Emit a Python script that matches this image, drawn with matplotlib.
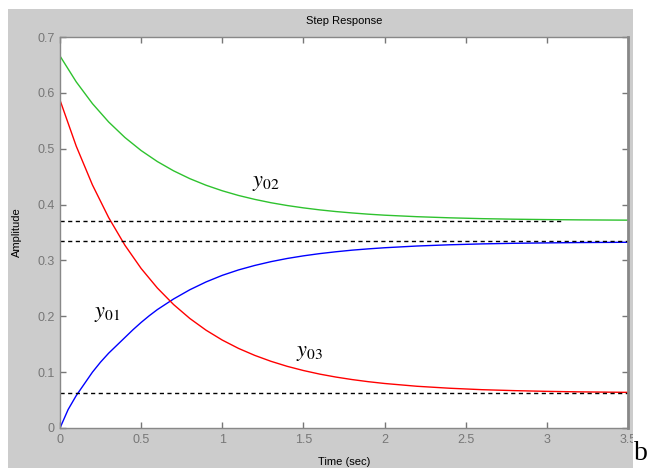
import matplotlib.pyplot as plt
from matplotlib.patches import Rectangle

plt.rcParams['font.family'] = ['Liberation Sans', 'DejaVu Sans']
plt.rcParams['mathtext.fontset'] = 'stix'

# --- data ---
t_y01 = [0, 0.05, 0.1, 0.15, 0.2, 0.25, 0.3, 0.35, 0.4, 0.45, 0.5, 0.55, 0.6,
         0.7, 0.8, 0.9, 1.0, 1.1, 1.2, 1.3, 1.4, 1.5, 1.6, 1.7, 1.8, 1.9, 2.0,
         2.2, 2.4, 2.6, 2.8, 3.0, 3.2, 3.5]
y01 = [0, 0.033, 0.058, 0.079, 0.100, 0.118, 0.134, 0.148, 0.162, 0.176,
       0.189, 0.201, 0.212, 0.231, 0.2475, 0.2615, 0.2733, 0.2830, 0.2910,
       0.2978, 0.3035, 0.3082, 0.3122, 0.3155, 0.3184, 0.3207, 0.3227, 0.3258,
       0.3280, 0.3296, 0.3307, 0.3314, 0.3320, 0.3325]

t = [0, 0.1, 0.2, 0.3, 0.4, 0.5, 0.6, 0.7, 0.8, 0.9, 1.0, 1.1, 1.2, 1.3, 1.4,
     1.5, 1.6, 1.7, 1.8, 1.9, 2.0, 2.2, 2.4, 2.6, 2.8, 3.0, 3.2, 3.5]
y02 = [0.666, 0.6197, 0.5807, 0.5478, 0.5201, 0.4967, 0.4770, 0.4604, 0.4464,
       0.4346, 0.4247, 0.4163, 0.4093, 0.4033, 0.3983, 0.3941, 0.3905, 0.3875,
       0.3850, 0.3828, 0.3810, 0.3783, 0.3763, 0.3748, 0.3738, 0.3731, 0.3726,
       0.3721]
y03 = [0.587, 0.5046, 0.4351, 0.3766, 0.3272, 0.2856, 0.2506, 0.2210, 0.1961,
       0.1751, 0.1574, 0.1425, 0.1300, 0.1194, 0.1104, 0.1029, 0.0965, 0.0912,
       0.0867, 0.0829, 0.0797, 0.0747, 0.0712, 0.0686, 0.0669, 0.0656, 0.0647,
       0.0638]

# steady-state levels (value, end time)
levels = [(0.3713, 3.1), (0.334, 3.5), (0.0625, 3.5)]

labels = ['$y_{01}$', '$y_{02}$', '$y_{03}$']
label_pos = [(0.29, 0.205), (1.27, 0.44), (1.54, 0.136)]

xticks = [0, 0.5, 1, 1.5, 2, 2.5, 3, 3.5]
xticklabels = ['0', '0.5', '1', '1.5', '2', '2.5', '3', '3.5']
yticks = [0, 0.1, 0.2, 0.3, 0.4, 0.5, 0.6, 0.7]
yticklabels = ['0', '0.1', '0.2', '0.3', '0.4', '0.5', '0.6', '0.7']

# --- figure ---
fig = plt.figure(figsize=(6.49, 4.68), dpi=100)
fig.patch.set_facecolor('white')
fig.add_artist(Rectangle((8 / 649, 0), 625 / 649, 459 / 468,
                         transform=fig.transFigure, facecolor='#cccccc',
                         edgecolor='none', zorder=-1))

ax = fig.add_axes([60 / 649, 40 / 468, 568 / 649, 391 / 468])
ax.set_facecolor('white')

ax.plot(t_y01, y01, color='#0000ff', lw=1.0)
ax.plot(t, y02, color='#2ec22e', lw=1.0)
ax.plot(t, y03, color='#ff0000', lw=1.0)

for val, tend in levels:
    ax.plot([0, tend], [val, val], color='black', lw=1.0, ls=(0, (3, 2.5)))

for txt, (x, y) in zip(labels, label_pos):
    ax.text(x, y, txt, fontsize=16, ha='center', va='center', color='black')

ax.set_xlim(0, 3.5)
ax.set_ylim(0, 0.7)
ax.set_xticks(xticks)
ax.set_xticklabels(xticklabels)
ax.set_yticks(yticks)
ax.set_yticklabels(yticklabels)
ax.tick_params(direction='in', length=4, width=1, colors='#777777',
               labelsize=9, top=True, right=True, pad=4)
for s in ax.spines.values():
    s.set_color('#888888')
    s.set_linewidth(1.0)
ax.spines['right'].set_linewidth(2.0)

ax.set_title('Step Response', fontsize=8, pad=9)
ax.set_xlabel('Time (sec)', fontsize=8, labelpad=8)
ax.set_ylabel('Amplitude', fontsize=8, labelpad=11)

# white margin beyond the grey panel clips the last tick label
fig.add_artist(Rectangle((633 / 649, 0), 16 / 649, 1, transform=fig.transFigure,
                         facecolor='white', edgecolor='none', zorder=5))
fig.text(634 / 649, 2 / 468, 'b', fontsize=20, family='Liberation Serif',
         ha='left', va='bottom', zorder=6)

fig.savefig('out.png', dpi=100)
